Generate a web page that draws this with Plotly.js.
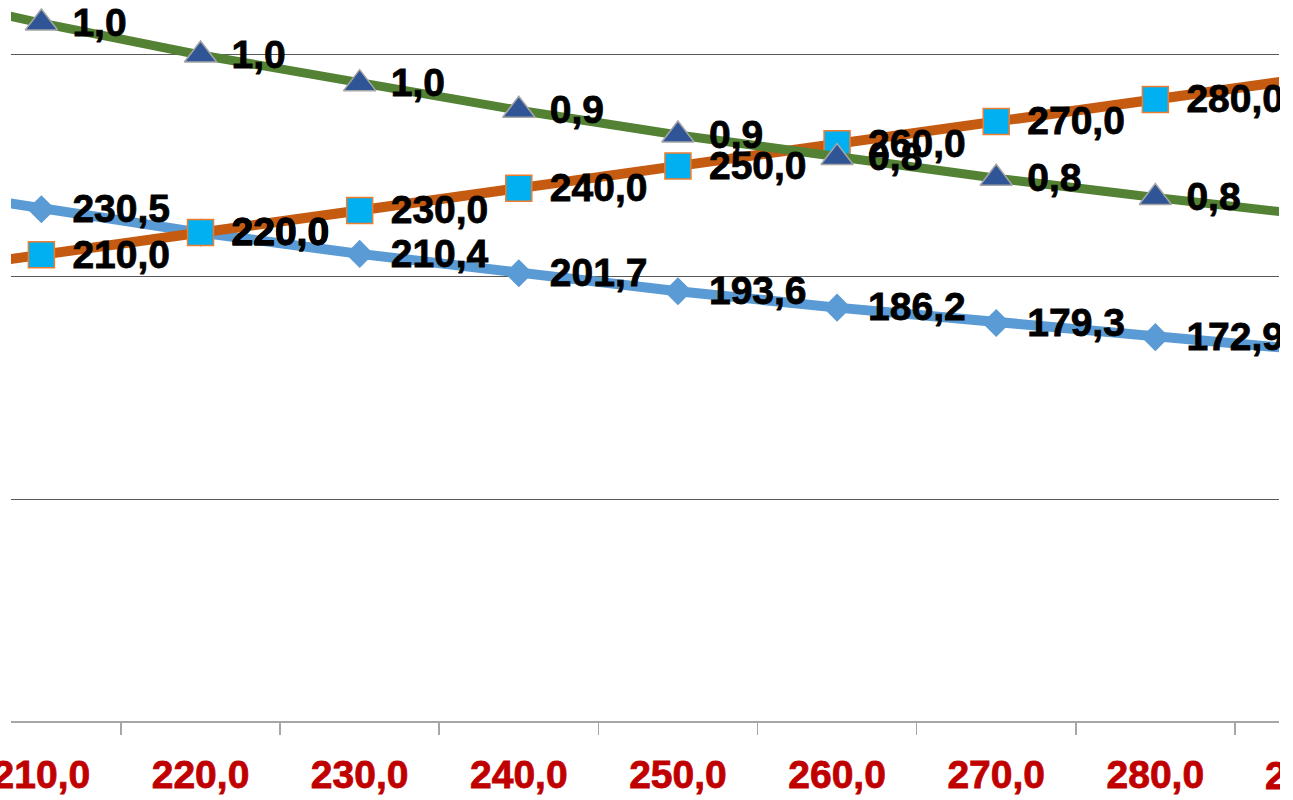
<!DOCTYPE html>
<html>
<head>
<meta charset="utf-8">
<script src="https://cdn.plot.ly/plotly-3.0.1.min.js"></script>
<style>
html,body{margin:0;padding:0;overflow:hidden;background:#fff;}
#chart{width:1280px;height:800px;overflow:hidden;}
#chart svg text{font-weight:700 !important;}
#chart svg .textpoint text{stroke:#000000;stroke-width:0.8px;}
#chart svg .xtick text, #chart svg .annotation-text{stroke:#C00000;stroke-width:0.8px;}
</style>
</head>
<body>
<div id="chart"></div>
<script>
// Categories (x-axis labels)
const categories = ["200,0","210,0","220,0","230,0","240,0","250,0","260,0","270,0","280,0","290,0"];
// Series values
const seriesBlue   = [242.0, 230.5, 220.0, 210.4, 201.7, 193.6, 186.2, 179.3, 172.9, 166.9];
const seriesOrange = [200.0, 210.0, 220.0, 230.0, 240.0, 250.0, 260.0, 270.0, 280.0, 290.0];
const seriesGreen  = [1.100, 1.048, 1.000, 0.957, 0.917, 0.880, 0.846, 0.815, 0.786, 0.759];

const xr = [0.809, 8.777];
const yr = [0, 324.77];
const y2r = [0, 1.0826];
const labelShift = 0.195;   // label offset to the right of the marker (category units)
const labelDrop = 0.0042;   // label offset below the marker (fraction of plot height)
const FONT = "Liberation Sans";
const labelFont = {family: FONT, size: 39, color: "#000000", weight: "bold"};

function lineTrace(y, color, width, symbol, size, fill, border, yaxis) {
  return {
    x: categories, y: y, type: "scatter", mode: "lines+markers",
    xaxis: "x", yaxis: yaxis,
    line: {color: color, width: width},
    marker: {symbol: symbol, size: size, color: fill, line: {color: border, width: 1.5}},
    cliponaxis: false, hoverinfo: "skip", showlegend: false
  };
}
function textTrace(y, yaxis) {
  return {
    x: categories, y: y, type: "scatter", mode: "text",
    xaxis: "x2", yaxis: yaxis,
    text: y.map(v => v.toFixed(1).replace(".", ",")),
    textposition: "middle right",
    textfont: labelFont,
    cliponaxis: false, hoverinfo: "skip", showlegend: false
  };
}
function shifted(r) {
  const d = (r[1] - r[0]) * labelDrop;
  return [r[0] + d, r[1] + d];
}

const data = [
  lineTrace(seriesBlue, "#5B9BD5", 10, "diamond", 20, "#5B9BD5", "#5B9BD5", "y"),
  lineTrace(seriesOrange, "#C55A11", 10, "square", 26, "#00B0F0", "#ED7D31", "y"),
  lineTrace(seriesGreen, "#548235", 9, "triangle-up", 28, "#2F5597", "#A5A5A5", "y2"),
  textTrace(seriesBlue, "y3"),
  textTrace(seriesOrange, "y3"),
  textTrace(seriesGreen, "y4")
];

const hiddenAxis = {visible: false, fixedrange: true, overlaying: "y", showgrid: false, zeroline: false};

const layout = {
  width: 1280, height: 800,
  margin: {l: 11, r: 1, t: 0, b: 79, pad: 0},
  paper_bgcolor: "#ffffff", plot_bgcolor: "#ffffff",
  separators: ",.",
  showlegend: false,
  xaxis: {
    type: "category", categoryorder: "array", categoryarray: categories,
    range: xr, fixedrange: true,
    tickson: "boundaries", ticks: "outside", ticklen: 12, tickwidth: 1.5, tickcolor: "#A6A6A6",
    ticklabelstandoff: 18,
    showline: true, linecolor: "#A6A6A6", linewidth: 2,
    showgrid: false, zeroline: false,
    tickfont: {family: FONT, size: 39, color: "#C00000", weight: "bold"}
  },
  xaxis2: {
    type: "category", categoryorder: "array", categoryarray: categories,
    range: [xr[0] - labelShift, xr[1] - labelShift], overlaying: "x",
    visible: false, fixedrange: true
  },
  yaxis: {
    range: yr, fixedrange: true,
    dtick: 100, showticklabels: false, ticks: "",
    showgrid: true, gridcolor: "#595959", gridwidth: 1,
    zeroline: false, showline: false
  },
  yaxis2: Object.assign({range: y2r}, hiddenAxis),
  yaxis3: Object.assign({range: shifted(yr)}, hiddenAxis),
  yaxis4: Object.assign({range: shifted(y2r)}, hiddenAxis),
  annotations: [{
    xref: "paper", yref: "paper",
    x: (categories.length - 1 - xr[0]) / (xr[1] - xr[0]), y: 0,
    yshift: -54, xanchor: "center", yanchor: "middle",
    text: categories[categories.length - 1], showarrow: false,
    font: {family: FONT, size: 39, color: "#C00000", weight: "bold"}
  }]
};

Plotly.newPlot("chart", data, layout, {staticPlot: true, displayModeBar: false});
</script>
</body>
</html>
